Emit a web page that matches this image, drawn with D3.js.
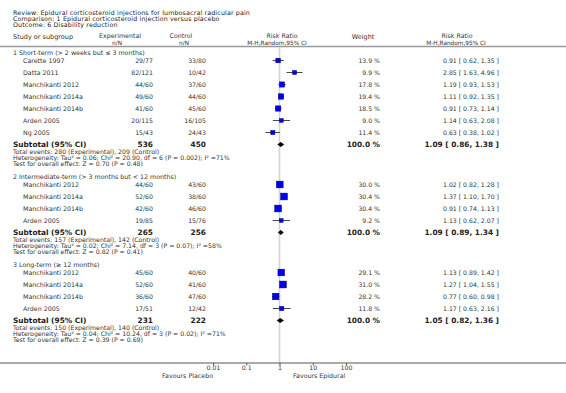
<!DOCTYPE html>
<html><head><meta charset="utf-8">
<script src="https://cdn.jsdelivr.net/npm/d3@7"></script>
<style>body{margin:0;background:#fff}svg{display:block}text{font-family:"DejaVu Sans",sans-serif;fill:#333}</style>
</head><body><div id="chart"></div>
<script>
const titleLines = ["Review:  Epidural corticosteroid injections for lumbosacral radicular pain",
  "Comparison:  1 Epidural corticosteroid injection versus placebo",
  "Outcome:  6 Disability reduction"];
const groupNames = ["1 Short-term (> 2 weeks but \u2264 3 months)",
  "2 Intermediate-term (> 3 months but < 12 months)",
  "3 Long-term (\u2265 12 months)"];
const studyGroup = [0,0,0,0,0,0,0, 1,1,1,1, 2,2,2,2];
const studyNames = ["Carette 1997","Datta 2011","Manchikanti 2012","Manchikanti 2014a","Manchikanti 2014b","Arden 2005","Ng 2005",
  "Manchikanti 2012","Manchikanti 2014a","Manchikanti 2014b","Arden 2005",
  "Manchikanti 2012","Manchikanti 2014a","Manchikanti 2014b","Arden 2005"];
const expNN = ["29/77","82/121","44/60","49/60","41/60","20/115","15/43", "44/60","52/60","42/60","19/85", "45/60","52/60","36/60","17/51"];
const ctrlNN = ["33/80","10/42","37/60","44/60","45/60","16/105","24/43", "43/60","38/60","46/60","15/76", "40/60","41/60","47/60","12/42"];
const weights = [13.9,9.9,17.8,19.4,18.5,9.0,11.4, 30.0,30.4,30.4,9.2, 29.1,31.0,28.2,11.8];
const rr = [0.91,2.85,1.19,1.11,0.91,1.14,0.63, 1.02,1.37,0.91,1.13, 1.13,1.27,0.77,1.17];
const rrLo = [0.62,1.63,0.93,0.92,0.73,0.63,0.38, 0.82,1.10,0.74,0.62, 0.89,1.04,0.60,0.63];
const rrHi = [1.35,4.96,1.53,1.35,1.14,2.08,1.02, 1.28,1.70,1.13,2.07, 1.42,1.55,0.98,2.16];
const subExpN = [536,265,231];
const subCtrlN = [450,256,222];
const subRR = [1.09,1.09,1.05];
const subLo = [0.86,0.89,0.82];
const subHi = [1.38,1.34,1.36];
const totalEvents = ["280 (Experimental), 209 (Control)","157 (Experimental), 142 (Control)","150 (Experimental), 140 (Control)"];
const heterogeneity = ["Tau\u00b2 = 0.06; Chi\u00b2 = 20.90, df = 6 (P = 0.002); I\u00b2 =71%",
  "Tau\u00b2 = 0.02; Chi\u00b2 = 7.14, df = 3 (P = 0.07); I\u00b2 =58%",
  "Tau\u00b2 = 0.04; Chi\u00b2 = 10.24, df = 3 (P = 0.02); I\u00b2 =71%"];
const overallEffect = ["Z = 0.70 (P = 0.48)","Z = 0.82 (P = 0.41)","Z = 0.39 (P = 0.69)"];
const tickValues = [0.01,0.1,1,10,100];
const tickLabels = ["0.01","0.1","1","10","100"];
const favoursLeft = "Favours Placebo", favoursRight = "Favours Epidural";

const W = 566, H = 393;
const svg = d3.select("#chart").append("svg").attr("width", W).attr("height", H);
const x = d3.scaleLog().domain([0.01, 100]).range([213, 346]);
const sz = d3.scaleSqrt().domain([0, 100]).range([0, 12.3]);
const fmt = d3.format(".2f");
const ciText = (e, l, h) => `${fmt(e)} [ ${fmt(l)}, ${fmt(h)} ]`;

function txt(xp, yp, s, opts = {}) {
  return svg.append("text").attr("x", xp).attr("y", yp).attr("dy", "0.35em")
    .attr("font-size", opts.size || 6.2).attr("font-weight", opts.bold ? "bold" : null)
    .attr("text-anchor", opts.anchor || "start").style("fill", opts.color || "#333").text(s);
}

// title
titleLines.forEach((t, i) => txt(13, 12.5 + i * 6, t, {size: 6.3, color: "#222"})
  .attr("letter-spacing", 0.15));

// header
txt(13, 36.5, "Study or subgroup", {size: 6.5});
txt(120, 36, "Experimental", {size: 6.3, anchor: "middle"});
txt(117, 43, "n/N", {size: 5.8, anchor: "middle"});
txt(181, 36, "Control", {size: 6.3, anchor: "middle"});
txt(184, 43, "n/N", {size: 5.8, anchor: "middle"});
txt(282, 36, "Risk Ratio", {size: 6.3, anchor: "middle"});
txt(277, 43, "M-H,Random,95% CI", {size: 5.8, anchor: "middle"});
txt(363, 36.5, "Weight", {size: 6.5, anchor: "middle"});
txt(457, 36, "Risk Ratio", {size: 6.3, anchor: "middle"});
txt(456, 43, "M-H,Random,95% CI", {size: 5.8, anchor: "middle"});
svg.append("line").attr("x1", 0).attr("x2", W).attr("y1", 46.5).attr("y2", 46.5)
  .attr("stroke", "#999").attr("stroke-width", 1.3);

// reference line at 1
const axisY = 363;
svg.append("line").attr("x1", x(1)).attr("x2", x(1)).attr("y1", 47).attr("y2", axisY)
  .attr("stroke", "#d4d4d4").attr("stroke-width", 1.6);

// layout rows
let y = 53;
const marks = svg.append("g");
groupNames.forEach((g, gi) => {
  txt(13, y, g, {size: 6.3});
  y += 7.5;
  const idx = studyGroup.map((s, i) => s === gi ? i : -1).filter(i => i >= 0);
  idx.forEach((i, k) => {
    const yy = y + k * 12;
    txt(23, yy, studyNames[i], {size: 6.3});
    txt(153, yy, expNN[i], {size: 6.2, anchor: "end"});
    txt(206, yy, ctrlNN[i], {size: 6.2, anchor: "end"});
    txt(380, yy, weights[i].toFixed(1) + " %", {size: 6.2, anchor: "end"});
    txt(499, yy, ciText(rr[i], rrLo[i], rrHi[i]), {size: 6.2, anchor: "end"});
    marks.append("line").attr("x1", x(rrLo[i])).attr("x2", x(rrHi[i])).attr("y1", yy).attr("y2", yy)
      .attr("stroke", "#333").attr("stroke-width", 0.9);
    const s = sz(weights[i]);
    marks.append("rect").attr("x", x(rr[i]) - s / 2).attr("y", yy - s / 2).attr("width", s).attr("height", s)
      .attr("fill", "#0000ee").attr("stroke", "#00007a").attr("stroke-width", 0.5);
  });
  y += (idx.length) * 12;
  // subtotal
  txt(13, y, "Subtotal (95% CI)", {size: 7.4, bold: true, color: "#222"});
  txt(153, y, subExpN[gi], {size: 7.4, bold: true, anchor: "end", color: "#222"});
  txt(206, y, subCtrlN[gi], {size: 7.4, bold: true, anchor: "end", color: "#222"});
  txt(380, y, "100.0 %", {size: 7.4, bold: true, anchor: "end", color: "#222"});
  txt(499, y, ciText(subRR[gi], subLo[gi], subHi[gi]), {size: 7.4, bold: true, anchor: "end", color: "#222"});
  const dh = 2.6, cx = x(subRR[gi]);
  marks.append("path").attr("d", `M${x(subLo[gi])},${y}L${cx},${y - dh}L${x(subHi[gi])},${y}L${cx},${y + dh}Z`)
    .attr("fill", "#000");
  txt(13, y + 7, "Total events: " + totalEvents[gi], {size: 6.2});
  txt(13, y + 13, "Heterogeneity: " + heterogeneity[gi], {size: 6.2});
  txt(13, y + 19, "Test for overall effect: " + overallEffect[gi], {size: 6.2});
  y += 19 + 13.5;
});

// axis
svg.append("line").attr("x1", 0).attr("x2", W).attr("y1", axisY).attr("y2", axisY)
  .attr("stroke", "#555").attr("stroke-width", 1);
const ax = svg.append("g").attr("transform", `translate(0,${axisY})`)
  .call(d3.axisBottom(x).tickValues(tickValues).tickSize(2.5).tickPadding(0.5)
    .tickFormat((d, i) => tickLabels[i]));
ax.select(".domain").remove();
ax.selectAll(".tick line").attr("stroke", "#555");
ax.selectAll(".tick text").attr("font-size", 6.2).attr("font-family", "DejaVu Sans").style("fill", "#333");
txt(213, 376, favoursLeft, {size: 6.3, anchor: "end"});
txt(293, 376, favoursRight, {size: 6.3, anchor: "start"});
</script></body></html>
